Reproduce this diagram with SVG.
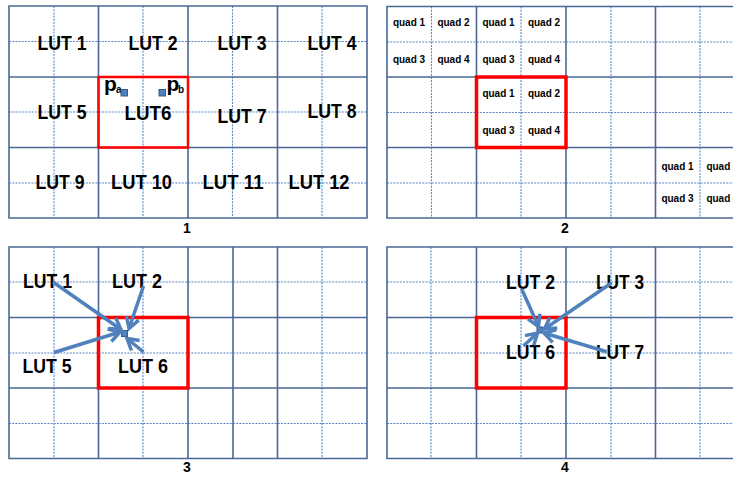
<svg xmlns="http://www.w3.org/2000/svg" width="733" height="477" viewBox="0 0 733 477">
<style>
.g{fill:none;stroke:#4a6896;stroke-width:1.6}
.d{fill:none;stroke:#5a86c8;stroke-width:1.1;stroke-dasharray:2 1.2}
.r{fill:none;stroke:#ff0000}
.t{font-family:"Liberation Sans",Arial,sans-serif;font-weight:bold;font-size:20.5px;fill:#000;text-anchor:middle}
.q{font-family:"Liberation Sans",Arial,sans-serif;font-weight:bold;font-size:10px;fill:#000;text-anchor:middle}
.n{font-family:"Liberation Sans",Arial,sans-serif;font-weight:bold;font-size:14px;fill:#000;text-anchor:middle}
.p{font-family:"Liberation Sans",Arial,sans-serif;font-weight:bold;font-size:21px;fill:#000}
.s{font-family:"Liberation Sans",Arial,sans-serif;font-weight:bold;font-size:10px;fill:#000}
.sq{fill:#4f81bd;stroke:#385d8a;stroke-width:1}
.a{fill:none;stroke:#4f81bd;stroke-width:3.5;marker-end:url(#ah)}
</style>
<defs>
<marker id="ah" markerUnits="userSpaceOnUse" viewBox="-14 -10 18 20" refX="0" refY="0" markerWidth="18" markerHeight="20" orient="auto">
<path d="M-11,-6.5 L0,0 L-11,6.5" fill="none" stroke="#4f81bd" stroke-width="3.5" stroke-linejoin="miter"/>
</marker>
</defs>
<rect width="733" height="477" fill="#fff"/>

<!-- Panel 1 grid -->
<g id="panel1-grid">
<path class="d" d="M54 6V218M143 6V218M232.5 6V218M322 6V218M9 41.5H367M9 112H367M9 183H367"/>
<path class="g" d="M9 6H367V218H9ZM98.5 6V218M188 6V218M277.5 6V218M9 77H367M9 147.5H367"/>
<rect class="r" x="98.5" y="77" width="89.5" height="70.5" stroke-width="2.5"/>
</g>
<!-- Panel 2 grid -->
<g id="panel2-grid">
<path class="d" d="M431.5 6.5V218M521 6.5V218M611 6.5V218M700 6.5V218M387 42H745M387 112.5H745M387 183H745"/>
<path class="g" d="M387 6.5H745V218H387ZM476.5 6.5V218M566 6.5V218M655.5 6.5V218M387 77H745M387 147.5H745"/>
<rect class="r" x="476.5" y="77" width="89.5" height="70.5" stroke-width="3.5"/>
</g>
<!-- Panel 3 grid -->
<g id="panel3-grid">
<path class="d" d="M54 247V458.5M143 247V458.5M322 247V458.5M9 282H367M9 353H367M9 423.5H367"/>
<path class="g" d="M9 247H367V458.5H9ZM98.5 247V458.5M188 247V458.5M233 247V458.5M277.5 247V458.5M9 317.5H367M9 388H367"/>
<rect class="r" x="98.5" y="317.5" width="89.5" height="70.5" stroke-width="3.5"/>
</g>
<!-- Panel 4 grid -->
<g id="panel4-grid">
<path class="d" d="M431 247V458.5M521 247V458.5M611 247V458.5M700 247V458.5M387 282H745M387 353H745M387 423.5H745"/>
<path class="g" d="M387 247H745V458.5H387ZM476.5 247V458.5M566 247V458.5M655.5 247V458.5M387 317.5H745M387 388H745"/>
<rect class="r" x="476.5" y="317.5" width="89.5" height="70.5" stroke-width="3.5"/>
</g>

<!-- Panel 1 nodes -->
<g id="p1-lut1"><text class="t" x="62" y="50" textLength="49" lengthAdjust="spacingAndGlyphs">LUT 1</text></g>
<g id="p1-lut2"><text class="t" x="153" y="50" textLength="49" lengthAdjust="spacingAndGlyphs">LUT 2</text></g>
<g id="p1-lut3"><text class="t" x="242" y="50" textLength="49" lengthAdjust="spacingAndGlyphs">LUT 3</text></g>
<g id="p1-lut4"><text class="t" x="332" y="50" textLength="49" lengthAdjust="spacingAndGlyphs">LUT 4</text></g>
<g id="p1-lut5"><text class="t" x="62" y="119" textLength="49" lengthAdjust="spacingAndGlyphs">LUT 5</text></g>
<g id="p1-lut6"><text class="t" x="148" y="120" textLength="47" lengthAdjust="spacingAndGlyphs">LUT6</text></g>
<g id="p1-lut7"><text class="t" x="242" y="123" textLength="49" lengthAdjust="spacingAndGlyphs">LUT 7</text></g>
<g id="p1-lut8"><text class="t" x="332" y="118" textLength="49" lengthAdjust="spacingAndGlyphs">LUT 8</text></g>
<g id="p1-lut9"><text class="t" x="60" y="189" textLength="49" lengthAdjust="spacingAndGlyphs">LUT 9</text></g>
<g id="p1-lut10"><text class="t" x="141.5" y="189" textLength="61" lengthAdjust="spacingAndGlyphs">LUT 10</text></g>
<g id="p1-lut11"><text class="t" x="233" y="189" textLength="61" lengthAdjust="spacingAndGlyphs">LUT 11</text></g>
<g id="p1-lut12"><text class="t" x="319" y="189" textLength="61" lengthAdjust="spacingAndGlyphs">LUT 12</text></g>
<g id="p1-pa">
<text class="p" x="104" y="90.5">p</text><text class="s" x="116" y="92.5">a</text>
<rect class="sq" x="121" y="89.5" width="6.5" height="6.5"/>
</g>
<g id="p1-pb">
<rect class="sq" x="159" y="89.5" width="6.5" height="6.5"/>
<text class="p" x="166.5" y="90.5">p</text><text class="s" x="178" y="92.5">b</text>
</g>
<g id="label1"><text class="n" x="187" y="233">1</text></g>

<!-- Panel 2 nodes -->
<g id="p2-lutA">
<text class="q" x="409" y="26">quad 1</text><text class="q" x="453.5" y="26">quad 2</text>
<text class="q" x="409" y="63">quad 3</text><text class="q" x="453.5" y="63">quad 4</text>
</g>
<g id="p2-lutB">
<text class="q" x="498.5" y="26">quad 1</text><text class="q" x="544" y="26">quad 2</text>
<text class="q" x="498.5" y="63">quad 3</text><text class="q" x="544" y="63">quad 4</text>
</g>
<g id="p2-lutC">
<text class="q" x="498.5" y="97">quad 1</text><text class="q" x="544" y="97">quad 2</text>
<text class="q" x="498.5" y="134">quad 3</text><text class="q" x="544" y="134">quad 4</text>
</g>
<g id="p2-lutD">
<text class="q" x="677.5" y="170">quad 1</text><text class="q" x="722.5" y="170">quad 2</text>
<text class="q" x="677.5" y="202">quad 3</text><text class="q" x="722.5" y="202">quad 4</text>
</g>
<g id="label2"><text class="n" x="565" y="233">2</text></g>

<!-- Panel 3 nodes -->
<g id="p3-lut1"><text class="t" x="47.5" y="288" textLength="49" lengthAdjust="spacingAndGlyphs">LUT 1</text></g>
<g id="p3-lut2"><text class="t" x="137" y="288" textLength="50" lengthAdjust="spacingAndGlyphs">LUT 2</text></g>
<g id="p3-lut5"><text class="t" x="47" y="373" textLength="49" lengthAdjust="spacingAndGlyphs">LUT 5</text></g>
<g id="p3-lut6"><text class="t" x="143" y="373" textLength="50" lengthAdjust="spacingAndGlyphs">LUT 6</text></g>
<g id="p3-point"><rect class="sq" x="121.5" y="330.5" width="6" height="6"/></g>
<g id="label3"><text class="n" x="187" y="472">3</text></g>

<!-- Panel 4 nodes -->
<g id="p4-lut2"><text class="t" x="530.5" y="289" textLength="49" lengthAdjust="spacingAndGlyphs">LUT 2</text></g>
<g id="p4-lut3"><text class="t" x="620" y="289" textLength="48" lengthAdjust="spacingAndGlyphs">LUT 3</text></g>
<g id="p4-lut6"><text class="t" x="530.5" y="359" textLength="49" lengthAdjust="spacingAndGlyphs">LUT 6</text></g>
<g id="p4-lut7"><text class="t" x="620" y="359" textLength="48" lengthAdjust="spacingAndGlyphs">LUT 7</text></g>
<g id="p4-point"><rect class="sq" x="537" y="327" width="6" height="6"/></g>
<g id="label4"><text class="n" x="565" y="472">4</text></g>

<!-- Connectors -->
<g id="connectors">
<line class="a" x1="53" y1="282" x2="121" y2="329.5"/>
<line class="a" x1="143.5" y1="286" x2="129" y2="328.5"/>
<line class="a" x1="54" y1="352.5" x2="120" y2="332"/>
<line class="a" x1="143.5" y1="352" x2="127" y2="338.5"/>
<line class="a" x1="521.7" y1="289" x2="538.5" y2="326.5"/>
<line class="a" x1="611.7" y1="282.7" x2="544.5" y2="329"/>
<line class="a" x1="606.7" y1="351.7" x2="544" y2="333"/>
<line class="a" x1="523.3" y1="346" x2="537.5" y2="333"/>
</g>
</svg>
